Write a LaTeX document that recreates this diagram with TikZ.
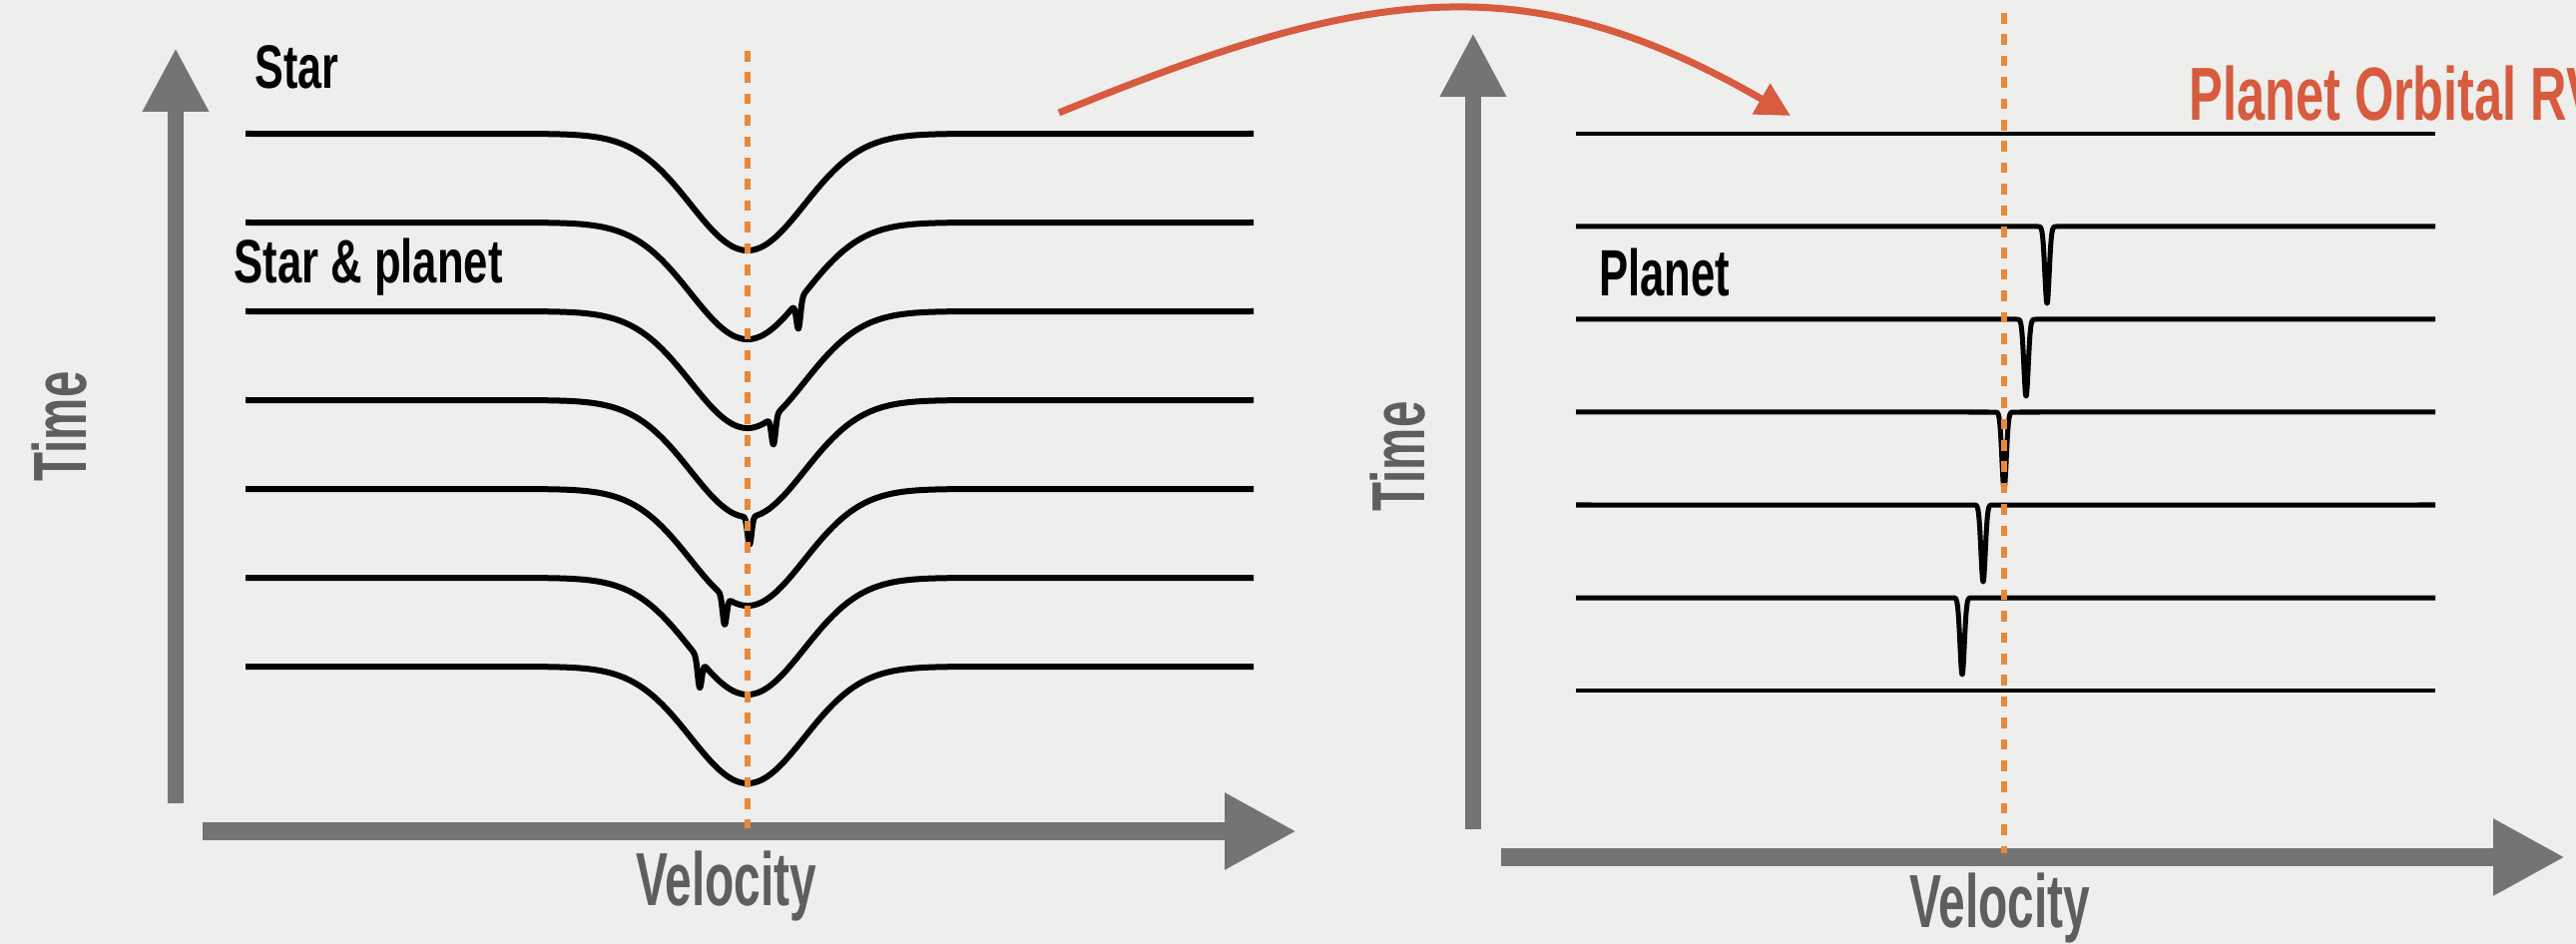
\documentclass[tikz,border=0pt]{standalone}
\usepackage{fontspec}
\usepackage{graphicx}
\usetikzlibrary{arrows.meta}
\setmainfont{Liberation Sans}

\definecolor{bg}{HTML}{EEEEEC}
\definecolor{axisgray}{HTML}{737473}
\definecolor{labelgray}{HTML}{5E5E5E}
\definecolor{rvred}{HTML}{D65B3F}
\definecolor{restorange}{HTML}{E8883A}

% horizontally condensed label text
\newcommand\narrowtext[2]{\scalebox{#1}[1]{#2}}

\begin{document}
\begin{tikzpicture}[x=0.5pt,y=-0.5pt,
  haxis/.style={line width=9pt, draw=axisgray, -{Triangle[length=36pt,width=36pt]}},
  vaxis/.style={line width=8pt, draw=axisgray, -{Triangle[length=32pt,width=31pt]}},
  starline/.style={line width=3pt, line join=round, line cap=butt},
  planetline/.style={line width=2.5pt, line join=round},
  plainline/.style={line width=2pt},
  restframe/.style={draw=restorange, line width=3pt, dash pattern=on 5.3pt off 5.4pt},
  rvarrow/.style={draw=rvred, line width=3.5pt, -{Triangle[length=17pt,width=17pt]}},
  blacklabel/.style={inner sep=0pt, anchor=base west, font=\fontsize{30.75pt}{36pt}\selectfont\bfseries},
  axislabel/.style={inner sep=0pt, anchor=base west, text=labelgray, font=\fontsize{37.7pt}{44pt}\selectfont\bfseries},
]
\useasboundingbox (0,0) rectangle (2581,946);
\fill[bg] (0,0) rectangle (2581,946);
\clip (0,0) rectangle (2581,946);

% ---------- left panel: stellar line with planet signal ----------
\coordinate (lvbot) at (176,805);
\coordinate (lvtop) at (176,48);
\coordinate (lhleft) at (203,833);
\coordinate (lhright) at (1299,833);
\draw[vaxis] (lvbot) -- (lvtop);
\draw[haxis] (lhleft) -- (lhright);

\foreach \yy/\pp/\aa in {134/749/0, 223/800/28, 312/775/28, 401/751/28, 490/726/28, 579/701/28, 668/749/0}
  \draw[starline] (246,\yy) -- plot[domain=549:949, samples=801]
     (\x,{\yy+117*exp(-0.5*((\x-749)/57)^2)+\aa*exp(-min(0.5*((\x-\pp)/2)^2,20))}) -- (1256,\yy);

\coordinate (lrtop) at (749,51);
\coordinate (lrbot) at (749,830);
\draw[restframe] (lrtop) -- (lrbot);

\node[blacklabel] (star) at (255,89) {\narrowtext{0.70}{Star}};
\node[blacklabel] (starplanet) at (234,284) {\narrowtext{0.71}{Star \& planet}};
\node[axislabel] (lvel) at (637,907) {\narrowtext{0.635}{Velocity}};
\node[axislabel, rotate=90] (ltime) at (86,483) {\narrowtext{0.63}{Time}};

% ---------- right panel: planet line alone ----------
\coordinate (rvbot) at (1476,831);
\coordinate (rvtop) at (1476,33);
\coordinate (rhleft) at (1504,859);
\coordinate (rhright) at (2570,859);
\draw[vaxis] (rvbot) -- (rvtop);
\draw[haxis] (rhleft) -- (rhright);

\draw[plainline] (1579,134) -- (2440,134);
\foreach \yy/\pp [evaluate=\pp as \lo using \pp-15, evaluate=\pp as \hi using \pp+15]
    in {227/2051, 320/2030, 413/2008, 506/1987, 599/1966}
  \draw[planetline] (1579,\yy) -- plot[domain=\lo:\hi, samples=121]
     (\x,{\yy+77*exp(-min(0.5*((\x-\pp)/2.2)^2,20))}) -- (2440,\yy);
\draw[plainline] (1579,692) -- (2440,692);

\coordinate (rrtop) at (2008,13);
\coordinate (rrbot) at (2008,855);
\draw[restframe] (rrtop) -- (rrbot);

\node[blacklabel, font=\fontsize{32.8pt}{38pt}\selectfont\bfseries] (planet) at (1602,297) {\narrowtext{0.665}{Planet}};
\node[axislabel] (rvel) at (1913,929) {\narrowtext{0.635}{Velocity}};
\node[axislabel, rotate=90] (rtime) at (1427,513) {\narrowtext{0.63}{Time}};
\node[axislabel, text=rvred] (orbrv) at (2193,121) {\narrowtext{0.67}{Planet Orbital RV}};

% ---------- transfer arrow between the panels ----------
\coordinate (arcstart) at (1061,113);
\coordinate (arcc1) at (1366,-12);
\coordinate (arcc2) at (1526,-39);
\coordinate (arcend) at (1794,116);
\draw[rvarrow] (arcstart) .. controls (arcc1) and (arcc2) .. (arcend);
\end{tikzpicture}
\end{document}
